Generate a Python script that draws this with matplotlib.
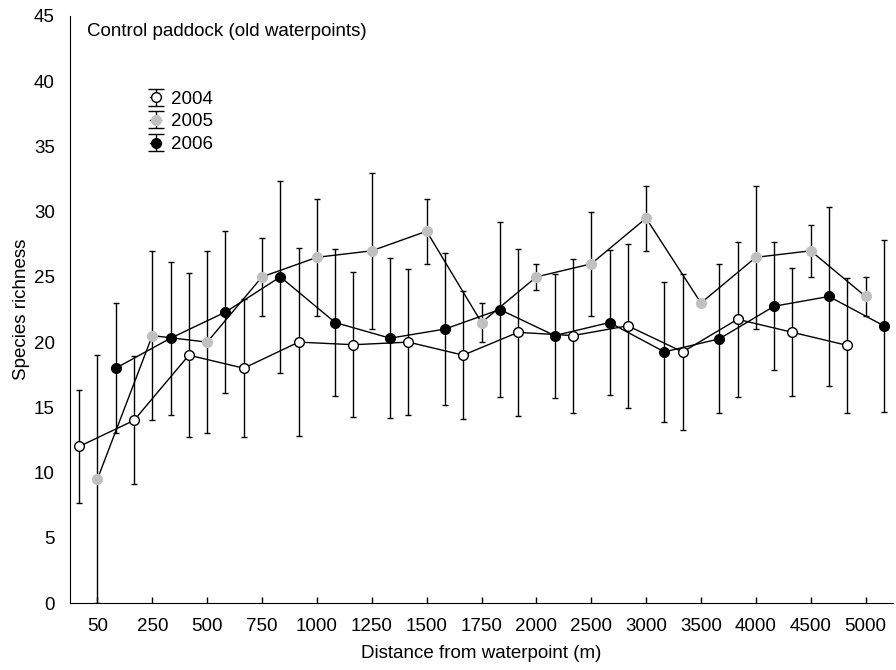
import numpy as np
import matplotlib
matplotlib.use("Agg")
import matplotlib.pyplot as plt
from matplotlib.lines import Line2D
from matplotlib.legend_handler import HandlerErrorbar

plt.rcParams['font.family'] = ['Liberation Sans', 'DejaVu Sans']

distances = ["50", "250", "500", "750", "1000", "1250", "1500", "1750",
             "2000", "2500", "3000", "3500", "4000", "4500", "5000"]

rich_2004 = [12, 14, 19, 18, 20, 19.8, 20, 19, 20.75, 20.5, 21.25, 19.25, 21.75, 20.75, 19.75]
err_2004 = [4.3, 4.9, 6.3, 5.3, 7.2, 5.55, 5.6, 4.9, 6.4, 5.9, 6.3, 5.95, 5.95, 4.9, 5.2]

rich_2005 = [9.5, 20.5, 20, 25, 26.5, 27, 28.5, 21.5, 25, 26, 29.5, 23, 26.5, 27, 23.5]
err_2005 = [9.5, 6.5, 7, 3, 4.5, 6, 2.5, 1.5, 1, 4, 2.5, 0, 5.5, 2, 1.5]

rich_2006 = [18, 20.3, 22.3, 25, 21.5, 20.3, 21, 22.5, 20.5, 21.5, 19.25, 20.25, 22.75, 23.5, 21.25]
err_2006 = [5, 5.85, 6.2, 7.35, 5.6, 6.15, 5.8, 6.7, 4.75, 5.55, 5.35, 5.7, 4.9, 6.85, 6.6]

fs = 13.5

fig = plt.figure(figsize=(8.96, 6.7), dpi=100)
ax = fig.add_axes([70/896, 67/670, 823/896, 587/670])

idx = np.arange(len(distances))
styles = [("2004", rich_2004, err_2004, 0, "white", "black"),
          ("2005", rich_2005, err_2005, 1, "#c0c0c0", "#c0c0c0"),
          ("2006", rich_2006, err_2006, 2, "black", "black")]
handles = []
for label, vals, errs, off, fc, ec in styles:
    h = ax.errorbar(3*idx + off, vals, yerr=errs, fmt='-o', color='black', lw=1,
                    ecolor='black', elinewidth=1, capsize=2, capthick=1,
                    ms=7, mfc=fc, mec=ec, mew=1, label=label)
    handles.append(h)

ax.set_xlim(-0.5, 44.5)
ax.set_ylim(0, 45)
ax.set_xticks(3*idx + 1)
ax.set_xticklabels(distances)
ax.set_yticks(np.arange(0, 46, 5))
ax.spines['top'].set_visible(False)
ax.spines['right'].set_visible(False)
ax.tick_params(axis='x', direction='in', length=4, width=1, labelsize=fs, pad=11)
ax.tick_params(axis='y', length=0, labelsize=fs, pad=11)
ax.set_xlabel("Distance from waterpoint (m)", fontsize=fs, labelpad=7)
ax.set_ylabel("Species richness", fontsize=fs, labelpad=3)

ax.text(0.021, 0.988, "Control paddock (old waterpoints)", transform=ax.transAxes,
        fontsize=fs, va='top', ha='left')


class WideCaps(HandlerErrorbar):
    # legend caps are wider than the ones on the plot
    def create_artists(self, *args, **kwargs):
        arts = super().create_artists(*args, **kwargs)
        for a in arts:
            if isinstance(a, Line2D) and a.get_marker() == '_':
                a.set_markersize(11)
        return arts


ax.legend(handles=handles, loc='upper left', bbox_to_anchor=(0.086, 0.889), frameon=False,
          fontsize=fs, handlelength=0.6, handletextpad=0.5, labelspacing=0.3,
          borderpad=0, handler_map={type(handles[0]): WideCaps(yerr_size=0.45)})

fig.savefig("out.png", dpi=100)
